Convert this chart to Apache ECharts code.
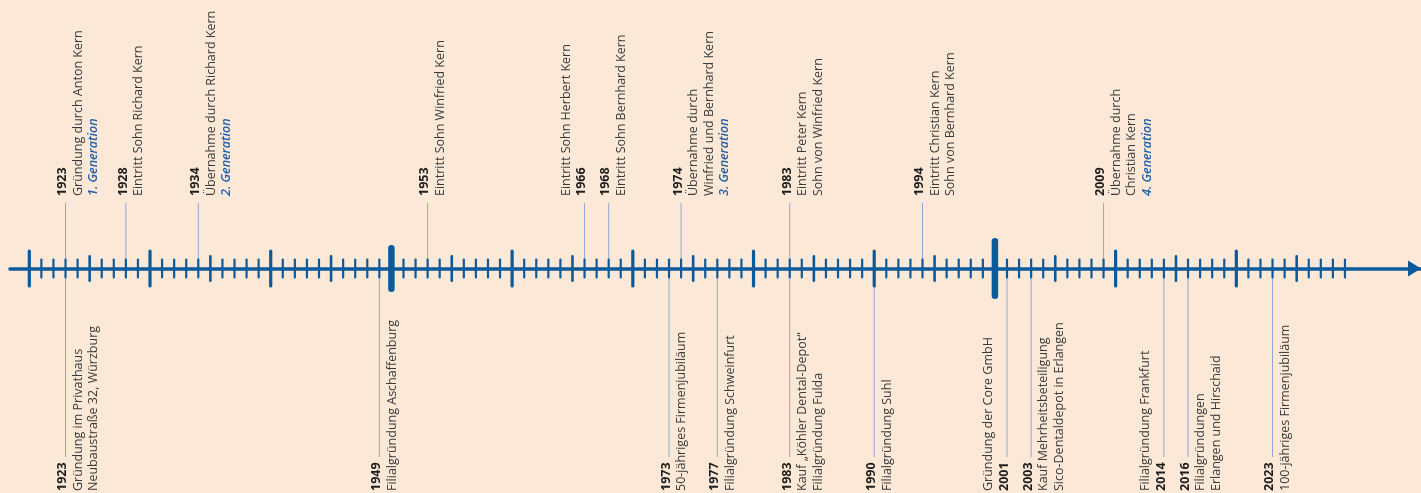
<!DOCTYPE html>
<html><head><meta charset="utf-8">
<script src="https://cdn.jsdelivr.net/npm/echarts@6/dist/echarts.min.js"></script>
<style>html,body{margin:0;padding:0;background:#fbe8d7;} #c{width:1421px;height:493px;}</style>
</head><body><div id="c"></div>
<script>
// ---- data ----
const axisMinYear = 1918.40;
const axisMaxYear = 2035.30;
const tickFirstYear = 1920;
const tickLastYear = 2029;
const heavyTickYears = [1950, 2000];

const topYears = [1923, 1928, 1934, 1953, 1966, 1968, 1974, 1983, 1994, 2009];
const topTexts = [
  ['1923', 'Gründung durch Anton Kern', '1. Generation'],
  ['1928', 'Eintritt Sohn Richard Kern'],
  ['1934', 'Übernahme durch Richard Kern', '2. Generation'],
  ['1953', 'Eintritt Sohn Winfried Kern'],
  ['Eintritt Sohn Herbert Kern', '1966'],
  ['1968', 'Eintritt Sohn Bernhard Kern'],
  ['1974', 'Übernahme durch', 'Winfried und Bernhard Kern', '3. Generation'],
  ['1983', 'Eintritt Peter Kern', 'Sohn von Winfried Kern'],
  ['1994', 'Eintritt Christian Kern', 'Sohn von Bernhard Kern'],
  ['2009', 'Übernahme durch', 'Christian Kern', '4. Generation']
];

const bottomYears = [1923, 1949, 1973, 1977, 1983, 1990, 2001, 2003, 2014, 2016, 2023];
const bottomTexts = [
  ['1923', 'Gründung im Privathaus', 'Neubaustraße 32, Würzburg'],
  ['1949', 'Filialgründung Aschaffenburg'],
  ['1973', '50-jähriges Firmenjubiläum'],
  ['1977', 'Filialgründung Schweinfurt'],
  ['1983', 'Kauf „Köhler Dental-Depot“', 'Filialgründung Fulda'],
  ['1990', 'Filialgründung Suhl'],
  ['Gründung der Core GmbH', '2001'],
  ['2003', 'Kauf Mehrheitsbeteiligung', 'Sico-Dentaldepot in Erlangen'],
  ['Filialgründung Frankfurt', '2014'],
  ['2016', 'Filialgründungen', 'Erlangen und Hirschaid'],
  ['2023', '100-jähriges Firmenjubiläum']
];

// ---- styles ----
const BLUE = '#0b5a9c';
const LEADER = '#8ea8d2';
const FONT = "'Open Sans', 'Noto Sans', sans-serif";
const FS = 12.5;
const LINE_H = 15.5;
const rich = {
  y: { fontFamily: FONT, fontSize: FS, fontWeight: 'bold', fill: '#1d1d1b', lineHeight: LINE_H },
  t: { fontFamily: FONT, fontSize: FS, fontWeight: 'normal', fill: '#3a3a39', lineHeight: LINE_H },
  g: { fontFamily: FONT, fontSize: FS, fontWeight: 600, fontStyle: 'italic', fill: '#1f5fa8', lineHeight: LINE_H }
};

const tickYears = [];
for (let y = tickFirstYear; y <= tickLastYear; y++) tickYears.push(y);

function labelSeries(years, texts, side) {
  return {
    type: 'custom', z: 2, silent: true, clip: false,
    data: years.map((y, i) => [y, 0, i]),
    renderItem(params, api) {
      const yr = api.value(0), i = api.value(2);
      const p = api.coord([yr, 0]);
      const lines = texts[i];
      const yearIdx = Math.max(0, lines.indexOf(String(yr)));
      const text = lines.map(l => l === String(yr) ? '{y|' + l + '}'
        : (/Generation$/.test(l) ? '{g|' + l + '}' : '{t|' + l + '}')).join('\n');
      const y1 = side === 'top' ? p[1] - 65.5 : p[1];
      const y2 = side === 'top' ? p[1] : p[1] + 188.5;
      return {
        type: 'group',
        children: [
          { type: 'line', shape: { x1: p[0], y1: y1, x2: p[0], y2: y2 },
            style: { stroke: LEADER, lineWidth: 1 } },
          { type: 'text', x: p[0] - 10.5 - LINE_H * yearIdx,
            y: side === 'top' ? p[1] - 72.5 : p[1] + 222.5,
            rotation: Math.PI / 2,
            style: { text: text, rich: rich, align: 'left', verticalAlign: 'top',
                     fontFamily: FONT, fontSize: FS, fill: '#3a3a39' } }
        ]
      };
    }
  };
}

const chart = echarts.init(document.getElementById('c'), null, { renderer: 'canvas' });
chart.setOption({
  backgroundColor: '#fbe8d7',
  animation: false,
  grid: { left: 10, right: 0, top: 0, bottom: 224.5, containLabel: false },
  xAxis: {
    type: 'value', min: axisMinYear, max: axisMaxYear, z: 5,
    axisLine: { show: true, onZero: false, symbol: ['none', 'triangle'], symbolSize: [16, 13], symbolOffset: [0, -6.5],
                lineStyle: { color: BLUE, width: 3.5, cap: 'round' } },
    axisTick: { show: false }, axisLabel: { show: false }, splitLine: { show: false }
  },
  yAxis: { type: 'value', min: 0, max: 1, show: false },
  series: [
    labelSeries(topYears, topTexts, 'top'),
    labelSeries(bottomYears, bottomTexts, 'bottom'),
    {
      type: 'custom', z: 6, silent: true, clip: false,
      data: tickYears.map(y => [y, 0]),
      renderItem(params, api) {
        const yr = api.value(0);
        const p = api.coord([yr, 0]);
        let half, w;
        if (heavyTickYears.indexOf(yr) >= 0) { w = 6.5; half = (yr === heavyTickYears[1] ? 30.5 : 23.5); }
        else if (yr % 10 === 0) { w = 3.2; half = 19; }
        else if (yr % 5 === 0) { w = 2.6; half = 13.5; }
        else { w = 2.2; half = 10; }
        half -= w / 2;
        return { type: 'line', shape: { x1: p[0], y1: p[1] - half, x2: p[0], y2: p[1] + half },
                 style: { stroke: BLUE, lineWidth: w, lineCap: 'round' } };
      }
    }
  ]
});
</script></body></html>
